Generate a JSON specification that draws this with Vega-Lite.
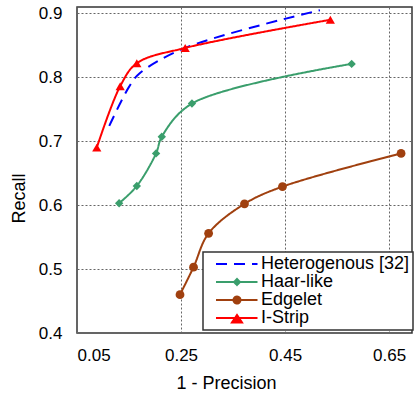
{
  "$schema": "https://vega.github.io/schema/vega-lite/v6.json",
  "width": 335,
  "height": 326,
  "autosize": {"type": "none"},
  "padding": {"left": 77, "top": 7, "right": 2, "bottom": 61},
  "background": "white",
  "config": {
    "font": "Liberation Sans",
    "view": {"stroke": "#333333", "strokeWidth": 1.5},
    "axis": {
      "domain": false,
      "ticks": false,
      "grid": true,
      "gridColor": "#666666",
      "gridDash": [2, 2],
      "gridWidth": 1,
      "labelFont": "Liberation Sans",
      "labelFontSize": 17,
      "labelColor": "#000000",
      "titleFont": "Liberation Sans",
      "titleFontSize": 18,
      "titleFontWeight": "normal",
      "titleColor": "#000000"
    }
  },
  "data": {
    "values": [
      {"method": "Heterogenous [32]", "fp": 0.112, "recall": 0.724},
      {"method": "Heterogenous [32]", "fp": 0.150, "recall": 0.785},
      {"method": "Heterogenous [32]", "fp": 0.170, "recall": 0.806},
      {"method": "Heterogenous [32]", "fp": 0.258, "recall": 0.846},
      {"method": "Heterogenous [32]", "fp": 0.517, "recall": 0.905},
      {"method": "Haar-like", "fp": 0.131, "recall": 0.603},
      {"method": "Haar-like", "fp": 0.165, "recall": 0.630},
      {"method": "Haar-like", "fp": 0.202, "recall": 0.681},
      {"method": "Haar-like", "fp": 0.213, "recall": 0.707},
      {"method": "Haar-like", "fp": 0.271, "recall": 0.759},
      {"method": "Haar-like", "fp": 0.578, "recall": 0.821},
      {"method": "Edgelet", "fp": 0.248, "recall": 0.460},
      {"method": "Edgelet", "fp": 0.274, "recall": 0.503},
      {"method": "Edgelet", "fp": 0.303, "recall": 0.556},
      {"method": "Edgelet", "fp": 0.372, "recall": 0.602},
      {"method": "Edgelet", "fp": 0.445, "recall": 0.629},
      {"method": "Edgelet", "fp": 0.673, "recall": 0.681},
      {"method": "I-Strip", "fp": 0.088, "recall": 0.690},
      {"method": "I-Strip", "fp": 0.133, "recall": 0.786},
      {"method": "I-Strip", "fp": 0.165, "recall": 0.822},
      {"method": "I-Strip", "fp": 0.258, "recall": 0.846},
      {"method": "I-Strip", "fp": 0.537, "recall": 0.890}
    ]
  },
  "encoding": {
    "x": {
      "field": "fp",
      "type": "quantitative",
      "scale": {"domain": [0.05, 0.694], "nice": false, "zero": false},
      "axis": {
        "title": "1 - Precision",
        "values": [0.05, 0.25, 0.45, 0.65],
        "format": ".2f",
        "labelPadding": 14,
        "titleX": 149,
        "titleY": 50,
        "titleBaseline": "middle",
        "titleAnchor": null
      }
    },
    "y": {
      "field": "recall",
      "type": "quantitative",
      "scale": {"domain": [0.4, 0.91], "nice": false, "zero": false},
      "axis": {
        "title": "Recall",
        "values": [0.4, 0.5, 0.6, 0.7, 0.8, 0.9],
        "format": ".1f",
        "labelPadding": 15,
        "titleX": -58,
        "titleY": 191,
        "titleBaseline": "middle",
        "titleAngle": 270
      }
    },
    "color": {
      "field": "method",
      "type": "nominal",
      "scale": {
        "domain": ["Heterogenous [32]", "Haar-like", "Edgelet", "I-Strip"],
        "range": ["#0000ff", "#3a9e6c", "#a0400f", "#ff0000"]
      },
      "legend": {
        "title": null,
        "orient": "none",
        "legendX": 126,
        "legendY": 245,
        "fillColor": "white",
        "strokeColor": "#333333",
        "padding": 3,
        "rowPadding": 0,
        "symbolSize": 100,
        "symbolStrokeWidth": 2,
        "labelOffset": 37,
        "labelLimit": 250,
        "labelFont": "Liberation Sans",
        "labelFontSize": 18,
        "labelColor": "#000000",
        "encode": {
          "legend": {
            "update": {"strokeWidth": {"value": 1.5}}
          },
          "symbols": {
            "update": {
              "shape": {"signal": "datum.value === 'I-Strip' ? 'M0.2,0L8.5,0M4.4,-0.6L5.4,0.9L3.4,0.9Z' : datum.value === 'Haar-like' ? 'M0.2,0L8.5,0M4.4,-0.6L5,0L4.4,0.6L3.8,0Z' : datum.value === 'Edgelet' ? 'M0.2,0L8.5,0M5.1,0A0.7,0.7 0 1,1 3.7,0A0.7,0.7 0 1,1 5.1,0Z' : 'M0.2,0L8.5,0'"},
              "fill": {"signal": "datum.value === 'I-Strip' ? '#ff0000' : datum.value === 'Haar-like' ? '#3a9e6c' : datum.value === 'Edgelet' ? '#a0400f' : '#0000ff'"},
              "stroke": {"signal": "datum.value === 'I-Strip' ? '#ff0000' : datum.value === 'Haar-like' ? '#3a9e6c' : datum.value === 'Edgelet' ? '#a0400f' : '#0000ff'"},
              "strokeDash": {"signal": "datum.value === 'Heterogenous [32]' ? [11, 7] : [1, 0]"},
              "strokeWidth": {"value": 2},
              "opacity": {"value": 1}
            }
          }
        }
      }
    }
  },
  "layer": [
    {
      "mark": {"type": "line", "interpolate": "catmull-rom", "strokeWidth": 2},
      "encoding": {
        "strokeDash": {
          "field": "method",
          "type": "nominal",
          "scale": {
            "domain": ["Heterogenous [32]", "Haar-like", "Edgelet", "I-Strip"],
            "range": [[11, 7], [1, 0], [1, 0], [1, 0]]
          },
          "legend": null
        }
      }
    },
    {
      "transform": [{"filter": "datum.method !== 'Heterogenous [32]'"}],
      "mark": {"type": "point", "filled": true, "opacity": 1},
      "encoding": {
        "shape": {
          "field": "method",
          "type": "nominal",
          "scale": {
            "domain": ["Haar-like", "Edgelet", "I-Strip"],
            "range": ["diamond", "circle", "triangle-up"]
          },
          "legend": null
        },
        "size": {
          "field": "method",
          "type": "nominal",
          "scale": {
            "domain": ["Haar-like", "Edgelet", "I-Strip"],
            "range": [70, 85, 125]
          },
          "legend": null
        }
      }
    }
  ]
}
